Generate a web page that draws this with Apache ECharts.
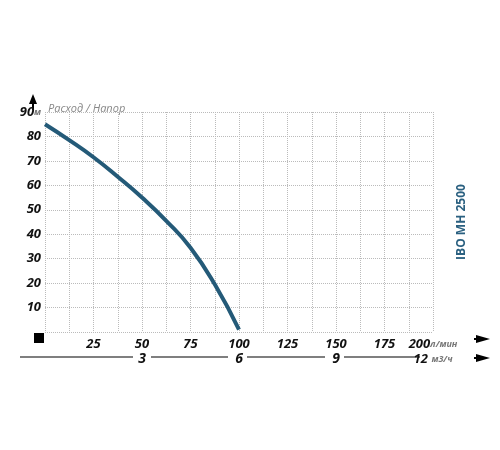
<!DOCTYPE html><html><head><meta charset="utf-8"><script src="https://cdn.jsdelivr.net/npm/echarts@6/dist/echarts.min.js"></script></head><body style="margin:0"><div id="c" style="width:500px;height:450px"></div><script>
const flowLmin=[0,12.5,25,37.5,50,62.5,75,87.5,100];
const headM=[85,78.5,71.5,63.5,55,45.5,34.5,19.5,1];
const xTicks=[25,50,75,100,125,150,175,200];
const x2Ticks=[3,6,9,12];
const yTicks=[10,20,30,40,50,60,70,80,90];
const c=echarts.init(document.getElementById('c'));
const F='"Open Sans", sans-serif';
const lab={fontFamily:F,fontWeight:'bold',fontStyle:'italic',fontSize:13,color:'#111'};
c.setOption({animation:false,
grid:{left:45,right:67,top:112,bottom:118},
xAxis:[{type:'value',min:0,max:200,interval:12.5,axisLine:{show:false},axisTick:{show:false},
 splitLine:{lineStyle:{type:'dotted',color:'#bbb'}},
 axisLabel:Object.assign({margin:6,formatter:v=>v===200?'{a|200}{u|л/мин}':(xTicks.includes(v)?String(v):''),rich:{a:lab,u:{fontSize:9,color:'#777',fontFamily:F}}},lab)},
 {type:'value',position:'bottom',offset:12,min:0,max:12,interval:3,axisLine:{show:false},axisTick:{show:false},splitLine:{show:false},
 axisLabel:Object.assign({formatter:v=>v===12?'{a|12} {u|м3/ч}':(v?String(v):''),rich:{a:lab,u:{fontSize:9,color:'#777',fontFamily:F}}},lab,{fontSize:14})}],
yAxis:{type:'value',min:0,max:90,interval:10,axisLine:{show:false},axisTick:{show:false},
 splitLine:{lineStyle:{type:'dotted',color:'#bbb'}},
 axisLabel:Object.assign({margin:4,formatter:v=>v===90?'{a|90}{u|м}':(v?String(v):''),rich:{a:lab,u:{fontSize:9,color:'#777'}}},lab)},
series:[{type:'line',data:flowLmin.map((x,i)=>[x,headM[i]]),smooth:0.5,showSymbol:false,lineStyle:{color:'#245a78',width:4}}],
graphic:[
 {type:'rect',shape:{x:34,y:333,width:10,height:10},style:{fill:'#000'}},
 {type:'polygon',shape:{points:[[33,94],[29,104],[37,104]]},style:{fill:'#000'}},
 {type:'line',shape:{x1:33,y1:104,x2:33,y2:110},style:{stroke:'#000',lineWidth:2}},
 {type:'text',x:48,y:103,style:{text:'Расход / Напор',font:'italic 11px "Open Sans"',fill:'#888'}},
 {type:'line',shape:{x1:20,y1:357,x2:133,y2:357},style:{stroke:'#000',lineWidth:1.2}},
 {type:'line',shape:{x1:151,y1:357,x2:228,y2:357},style:{stroke:'#000',lineWidth:1.2}},
 {type:'line',shape:{x1:247,y1:357,x2:325,y2:357},style:{stroke:'#000',lineWidth:1.2}},
 {type:'line',shape:{x1:344,y1:357,x2:420,y2:357},style:{stroke:'#000',lineWidth:1.2}},
 {type:'polygon',shape:{points:[[490,339],[476,335],[476,343]]},style:{fill:'#000'}},
 {type:'line',shape:{x1:474,y1:339,x2:480,y2:339},style:{stroke:'#000',lineWidth:2}},
 {type:'polygon',shape:{points:[[490,358],[476,354],[476,362]]},style:{fill:'#000'}},
 {type:'line',shape:{x1:474,y1:358,x2:480,y2:358},style:{stroke:'#000',lineWidth:2}},
 {type:'text',x:462,y:222,rotation:Math.PI/2,style:{text:'IBO MH 2500',font:'bold 12px "Open Sans"',fill:'#2a6080',align:'center',verticalAlign:'middle'}}
]});
</script></body></html>
